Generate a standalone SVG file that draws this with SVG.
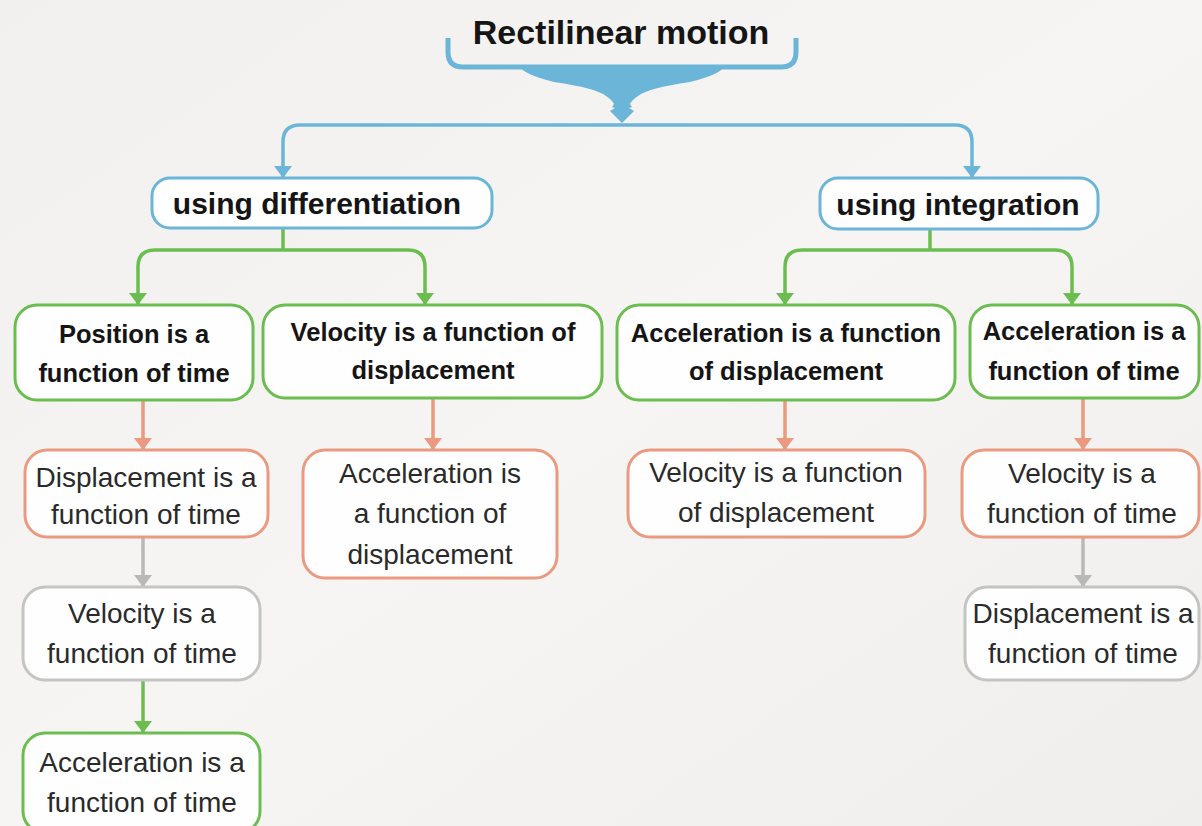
<svg xmlns="http://www.w3.org/2000/svg" width="1202" height="826" viewBox="0 0 1202 826">
<defs>
<linearGradient id="bg" x1="0" y1="0" x2="1" y2="1">
<stop offset="0" stop-color="#f1f0ee"/>
<stop offset="0.5" stop-color="#f6f5f3"/>
<stop offset="1" stop-color="#efeeec"/>
</linearGradient>
<marker id="mBlue" viewBox="0 0 10 10" refX="10" refY="5" markerWidth="12" markerHeight="18" orient="auto" markerUnits="userSpaceOnUse" preserveAspectRatio="none"><path d="M0,0 L10,5 L0,10 z" fill="#6bb5d8"/></marker>
<marker id="mGreen" viewBox="0 0 10 10" refX="10" refY="5" markerWidth="12" markerHeight="18" orient="auto" markerUnits="userSpaceOnUse" preserveAspectRatio="none"><path d="M0,0 L10,5 L0,10 z" fill="#6cbd4f"/></marker>
<marker id="mOrange" viewBox="0 0 10 10" refX="10" refY="5" markerWidth="12" markerHeight="18" orient="auto" markerUnits="userSpaceOnUse" preserveAspectRatio="none"><path d="M0,0 L10,5 L0,10 z" fill="#e99a80"/></marker>
<marker id="mGray" viewBox="0 0 10 10" refX="10" refY="5" markerWidth="12" markerHeight="18" orient="auto" markerUnits="userSpaceOnUse" preserveAspectRatio="none"><path d="M0,0 L10,5 L0,10 z" fill="#b8b8b6"/></marker>
</defs>
<style>
.box{fill:#fefefe;stroke-width:3}
.blue{stroke:#6bb5d8}
.green{stroke:#6cbd4f}
.orange{stroke:#e99a80}
.gray{stroke:#c4c4c2}
.b{font-family:"Liberation Sans",Arial,sans-serif;font-weight:bold;fill:#151515;text-anchor:middle}
.r{font-family:"Liberation Sans",Arial,sans-serif;fill:#2a2a2a;text-anchor:middle;font-size:28px}
.l1{font-size:30px}
.l2{font-size:25.5px}
.c{fill:none;stroke-width:3.5}
</style>
<rect width="1202" height="826" fill="url(#bg)"/>

<g id="title">
<text class="b" x="621" y="44" font-size="34">Rectilinear motion</text>
<path d="M448,38 L448,52 Q448,67 463,67 L781,67 Q796,67 796,52 L796,38" fill="none" stroke="#6bb5d8" stroke-width="5"/>
<path d="M520,66 L724,66 Q722,74 690,82 Q648,88 638,96 Q632,100 630,104 L632,107 L629,108 L634,111 L622,123 L610,111 L615,108 L612,107 L614,104 Q612,100 606,96 Q596,88 554,82 Q522,74 520,66 Z" fill="#6bb5d8"/>
</g>

<g id="connectors">
<path class="c" d="M300,125 L955,125" stroke="#6bb5d8"/>
<path class="c" d="M300,125 Q283,125 283,142 L283,178" stroke="#6bb5d8" marker-end="url(#mBlue)"/>
<path class="c" d="M955,125 Q972,125 972,142 L972,178" stroke="#6bb5d8" marker-end="url(#mBlue)"/>

<path class="c" d="M283,229 L283,250" stroke="#6cbd4f"/>
<path class="c" d="M283,250 L155,250 Q138,250 138,267 L138,305" stroke="#6cbd4f" marker-end="url(#mGreen)"/>
<path class="c" d="M283,250 L408,250 Q425,250 425,267 L425,305" stroke="#6cbd4f" marker-end="url(#mGreen)"/>

<path class="c" d="M930,230 L930,250" stroke="#6cbd4f"/>
<path class="c" d="M930,250 L802,250 Q785,250 785,267 L785,305" stroke="#6cbd4f" marker-end="url(#mGreen)"/>
<path class="c" d="M930,250 L1055,250 Q1072,250 1072,267 L1072,305" stroke="#6cbd4f" marker-end="url(#mGreen)"/>

<path class="c" d="M143,401 L143,450" stroke="#e99a80" marker-end="url(#mOrange)"/>
<path class="c" d="M433,399 L433,450" stroke="#e99a80" marker-end="url(#mOrange)"/>
<path class="c" d="M785,401 L785,450" stroke="#e99a80" marker-end="url(#mOrange)"/>
<path class="c" d="M1083,399 L1083,450" stroke="#e99a80" marker-end="url(#mOrange)"/>

<path class="c" d="M143,538 L143,587" stroke="#b8b8b6" marker-end="url(#mGray)"/>
<path class="c" d="M1083,538 L1083,587" stroke="#b8b8b6" marker-end="url(#mGray)"/>
<path class="c" d="M143,681 L143,733" stroke="#6cbd4f" marker-end="url(#mGreen)"/>
</g>

<g id="n_diff">
<rect class="box blue" x="152" y="178" width="340" height="50" rx="18"/>
<text class="b l1" x="317" y="214">using differentiation</text>
</g>
<g id="n_int">
<rect class="box blue" x="820" y="178" width="278" height="51" rx="18"/>
<text class="b l1" x="958" y="215">using integration</text>
</g>

<g id="n_pos">
<rect class="box green" x="15" y="305" width="238" height="95" rx="22"/>
<text class="b l2" x="134" y="343">Position is a</text>
<text class="b l2" x="134" y="382">function of time</text>
</g>
<g id="n_vel_disp">
<rect class="box green" x="263" y="305" width="339" height="93" rx="22"/>
<text class="b l2" x="433" y="341">Velocity is a function of</text>
<text class="b l2" x="433" y="379">displacement</text>
</g>
<g id="n_acc_disp">
<rect class="box green" x="617" y="305" width="338" height="95" rx="22"/>
<text class="b l2" x="786" y="342">Acceleration is a function</text>
<text class="b l2" x="786" y="380">of displacement</text>
</g>
<g id="n_acc_time">
<rect class="box green" x="970" y="305" width="229" height="93" rx="22"/>
<text class="b l2" x="1084" y="340">Acceleration is a</text>
<text class="b l2" x="1084" y="380">function of time</text>
</g>

<g id="n_disp_time">
<rect class="box orange" x="25" y="450" width="243" height="87" rx="22"/>
<text class="r" x="146" y="487">Displacement is a</text>
<text class="r" x="146" y="524">function of time</text>
</g>
<g id="n_acc_disp2">
<rect class="box orange" x="303" y="450" width="254" height="128" rx="22"/>
<text class="r" x="430" y="483">Acceleration is</text>
<text class="r" x="430" y="523">a function of</text>
<text class="r" x="430" y="564">displacement</text>
</g>
<g id="n_vel_disp2">
<rect class="box orange" x="628" y="450" width="297" height="87" rx="22"/>
<text class="r" x="776" y="482">Velocity is a function</text>
<text class="r" x="776" y="522">of displacement</text>
</g>
<g id="n_vel_time">
<rect class="box orange" x="962" y="450" width="237" height="87" rx="22"/>
<text class="r" x="1082" y="483">Velocity is a</text>
<text class="r" x="1082" y="523">function of time</text>
</g>

<g id="n_vel_time_g">
<rect class="box gray" x="23" y="587" width="237" height="93" rx="22"/>
<text class="r" x="142" y="623">Velocity is a</text>
<text class="r" x="142" y="663">function of time</text>
</g>
<g id="n_disp_time_g">
<rect class="box gray" x="965" y="587" width="234" height="93" rx="22"/>
<text class="r" x="1083" y="623">Displacement is a</text>
<text class="r" x="1083" y="663">function of time</text>
</g>

<g id="n_acc_time_g">
<rect class="box green" x="23" y="733" width="237" height="100" rx="22"/>
<text class="r" x="142" y="772">Acceleration is a</text>
<text class="r" x="142" y="812">function of time</text>
</g>
</svg>
